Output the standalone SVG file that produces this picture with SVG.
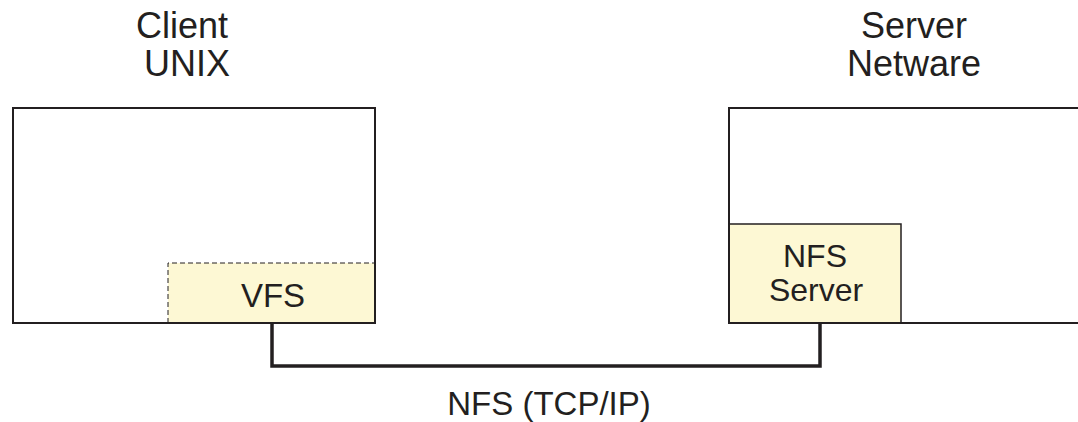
<svg xmlns="http://www.w3.org/2000/svg" width="1078" height="422" viewBox="0 0 1078 422">
<style>
text{font-family:"Liberation Sans",Arial,sans-serif;fill:#231f20;text-anchor:middle}
.t{font-size:36px}
.m{font-size:33px}
.s{font-size:32px}
.box{fill:#fff;stroke:#231f20;stroke-width:2}
.mod{fill:#fdf8d4;stroke:#231f20;stroke-width:1.5}
.conn{fill:none;stroke:#231f20;stroke-width:3.5}
</style>
<rect width="1078" height="422" fill="#fff"/>
<g id="client">
<rect class="box" x="13" y="108" width="362" height="215"/>
<text class="t" x="182" y="38">Client</text>
<text class="t" x="187" y="76">UNIX</text>
</g>
<g id="server">
<rect class="box" x="729" y="108" width="360" height="215"/>
<text class="t" x="914" y="38">Server</text>
<text class="t" x="914" y="76">Netware</text>
</g>
<g id="vfs">
<rect x="168" y="263" width="207" height="60" fill="#fdf8d4"/>
<path d="M168,323 V263 H375" fill="none" stroke="#231f20" stroke-width="1" stroke-dasharray="5,3"/>
<path d="M168,323 H375 V263" fill="none" stroke="#231f20" stroke-width="2"/>
<text class="m" x="273" y="307">VFS</text>
</g>
<g id="nfsserver">
<rect class="mod" x="729" y="224" width="172" height="99"/>
<path d="M729,224 V323 H901" fill="none" stroke="#231f20" stroke-width="2"/>
<text class="s" x="815" y="267">NFS</text>
<text class="s" x="816" y="301">Server</text>
</g>
<g id="connectors">
<path class="conn" d="M272,323 V366 H820 V323"/>
<text class="m" x="549" y="415">NFS (TCP/IP)</text>
</g>
</svg>
